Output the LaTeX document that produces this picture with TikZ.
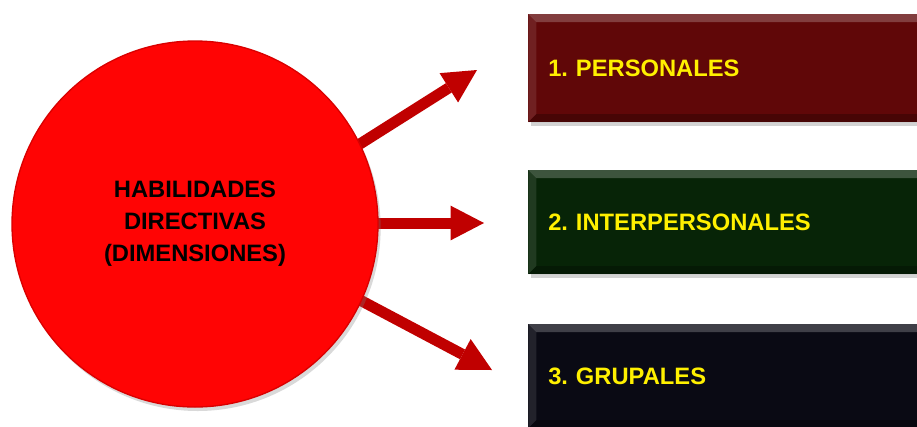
\documentclass[tikz,border=0pt]{standalone}
\usepackage{fontspec}
\setmainfont{Liberation Sans}
\usetikzlibrary{arrows.meta,shadows,backgrounds}
\frenchspacing

\definecolor{circred}{HTML}{FF0404}
\definecolor{arrred}{HTML}{C00000}
\definecolor{persred}{HTML}{600708}
\definecolor{intergreen}{HTML}{072407}
\definecolor{grupblack}{HTML}{0A0A14}
\definecolor{labelyellow}{HTML}{FFF000}

\begin{document}
\begin{tikzpicture}[
    x=0.75pt, y=-0.75pt,
    arr/.style={draw=arrred, line width=8.25pt,
        -{Triangle[length=25pt,width=26pt,line width=0pt,fill=arrred]}},
    dimbox/.style={anchor=west, minimum height=#1, inner xsep=15pt,
        text width=270pt, align=left, text=labelyellow,
        font=\fontsize{17.8}{21}\selectfont\bfseries,
        drop shadow={opacity=0.35, shadow xshift=2pt, shadow yshift=-3pt},
        path picture={
            \fill[white,opacity=0.22] (path picture bounding box.north west)
                -- (path picture bounding box.north east)
                -- ([xshift=-6pt,yshift=-6pt]path picture bounding box.north east)
                -- ([xshift=6pt,yshift=-6pt]path picture bounding box.north west) -- cycle;
            \fill[white,opacity=0.10] (path picture bounding box.north west)
                -- ([xshift=6pt,yshift=-6pt]path picture bounding box.north west)
                -- ([xshift=6pt,yshift=6pt]path picture bounding box.south west)
                -- (path picture bounding box.south west) -- cycle;
            \fill[black,opacity=0.25] (path picture bounding box.south west)
                -- ([xshift=6pt,yshift=6pt]path picture bounding box.south west)
                -- ([xshift=-6pt,yshift=6pt]path picture bounding box.south east)
                -- (path picture bounding box.south east) -- cycle;
        }}
]
\useasboundingbox (0,0) rectangle (917,426);

% Circle
\node[circle, fill=circred, draw=red!85!black, line width=1pt,
      minimum size=274.5pt, inner sep=0pt,
      drop shadow={opacity=0.3, shadow xshift=2pt, shadow yshift=-3pt},
      align=center, font=\fontsize{17.8}{24}\selectfont\bfseries]
    (hab) at (195,224) {HABILIDADES\\DIRECTIVAS\\(DIMENSIONES)};

% Arrow tips
\coordinate (tippers) at (477,70);
\coordinate (tipinter) at (484,223);
\coordinate (tipgrup) at (492,370);

% Arrows, behind the circle
\begin{scope}[on background layer]
\draw[arr] ([xshift=-4pt]hab.25) -- (tippers);
\draw[arr] ([xshift=-4pt]hab.east |- tipinter) -- (tipinter);
\draw[arr] ([xshift=-4pt]hab.-24) -- (tipgrup);
\end{scope}

% Dimension boxes
\node[dimbox=81pt, fill=persred] (pers) at (528,68) {1. PERSONALES};
\node[dimbox=78pt, fill=intergreen] (inter) at (528,222) {2. INTERPERSONALES};
\node[dimbox=78pt, fill=grupblack] (grup) at (528,376) {3. GRUPALES};

\end{tikzpicture}
\end{document}
